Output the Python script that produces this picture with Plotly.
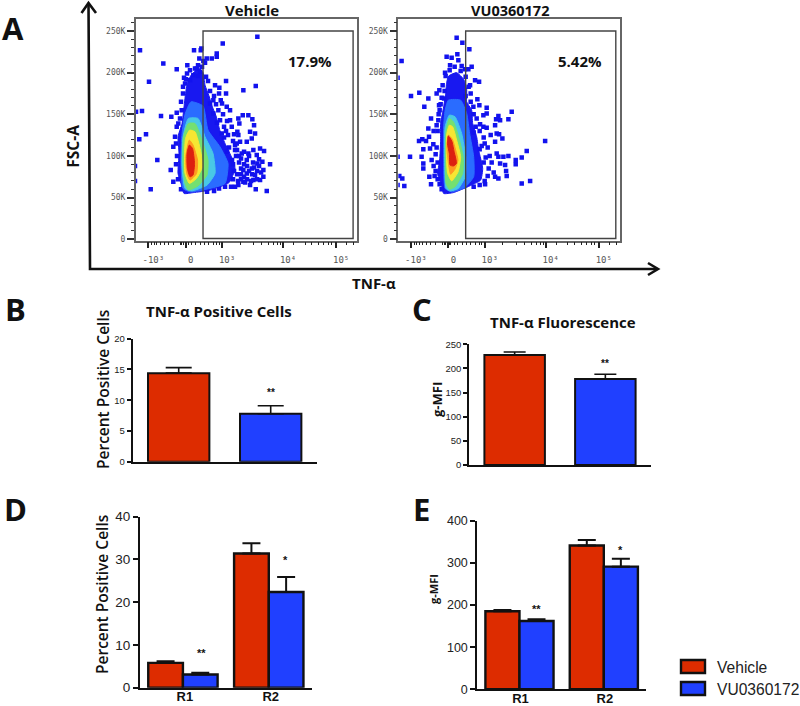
import plotly.graph_objects as go

W, H = 800, 706
BODY = "Open Sans"
ARIAL = "Liberation Sans"
RED = "#dd2c00"
BLUE = "#2040ff"
DOT = "#1212ee"
LEVEL_COLORS = ["#1818f0", "#2a6cff", "#48c8e6", "#74e070", "#f6e632", "#ff9a20", "#dc2010"]

# ---------- panel A: gated density levels and outlying events (display channel, FSC in K)
veh_levels = [
    [(2.7,198),(10,205),(14,200),(16,185),(20,172),(23,160),(27,148),(31,130),(36,115),(42,100),(46,85),(40,68),(21,59),(4.3,56),(-5,55),(-8,67),(-11,79),(-10,103),(-11,123),(-7,139),(-5,159),(-3,179),(-1,190)],
    [(2,165),(14,160),(19,131),(31,111),(39,91),(36,67),(21,61),(1,57),(-6,61),(-8,95),(-7,127),(-4,150)],
    [(-0.7,145),(9,145),(16,123),(24,103),(26,79),(18,65),(2.7,58),(-4,61),(-7,87),(-6,123)],
    [(-0.7,139),(6,139),(13,119),(19,95),(18,77),(9,64),(-0.7,59),(-4,67),(-6,91),(-5.5,123)],
    [(0.5,131),(6,129),(11.5,107),(13.5,87),(7.5,73),(0.3,67),(-4,79),(-4.5,103),(-3.5,121)],
    [(0.3,119),(4,113),(8.5,95),(7.5,79),(1,71),(-2.3,79),(-3.3,99)],
    [(0.3,113),(3.5,109),(5.5,91),(4,77),(1,75),(-1.7,85),(-2,103)],
]
vu_levels = [
    [(-3,196),(5,200),(12,192),(15,180),(15,165),(20,155),(21,139),(25,123),(27,107),(31,85),(29,71),(18,64),(1.7,56),(-8,55),(-10,65),(-14,78),(-12,95),(-11,119),(-11,139),(-8,159),(-6,175),(-5,188)],
    [(-3.3,167),(9,167),(15,151),(18,127),(22,99),(22,75),(13,62),(0,57),(-6.5,61),(-8,95),(-8,135),(-6.5,155)],
    [(-2.3,149),(3.4,147),(10,127),(14,99),(13.5,75),(6.7,61),(-1.6,58),(-5.6,61),(-7,95),(-6.5,135)],
    [(-2.3,145),(1.7,141),(6.5,125),(11.5,99),(11,79),(3.4,63),(-2.3,60),(-5.6,67),(-6.3,95),(-5.6,131)],
    [(-2.3,137),(1,135),(5,119),(9,99),(6.5,81),(0.1,70),(-4,79),(-5.3,103),(-4.8,127)],
    [(-3.3,125),(0.7,120),(4,107),(6.3,95),(3.2,84),(-1,78),(-3.2,91),(-4.8,111)],
    [(-3.3,124),(0.1,118),(2.5,105),(4.8,91),(1.7,88),(-1.6,89),(-2.3,103),(-4.2,115)],
]
veh_events = [(-49,227),(-25.7,211),(-40,189),(-12.3,204),(-1.7,209),(5,227),(11.7,227),(12.3,229),(10.3,217),(14.3,214),(17.7,217),(22.7,217),(27.7,219),(27.7,223),(33.7,235),(68.3,243),(37,190),(26,185),(30.3,182),(37,175),(54.3,179),(66.7,184),(-53,153),(-47,154),(-28,148),(-17.7,147),(-43,126),(-49.7,120),(-31.7,95),(-54,88),(-54,70),(-38.3,60),(-18.3,83),(-15.7,69),(77.7,58),(66.7,60),(81,90),
    (49.3,145),(53.7,149),(59.3,149),(63.3,144),(65,137),(61,129),(66,127),(62.7,121),(57.7,117),(51,117),(46,113),(50.3,139),(48.3,129),(49.3,125),(42.7,135),(41,155),(37.7,159),(35,135),(31,143),(32.7,127),(24.3,167),(31.7,167),(29.3,155),(21,163),(24.3,151),
    (64.3,107),(71,109),(75,106),(67.7,101),(59.3,103),(73.3,93),(68.3,91),(74.3,83),(74.3,75),(71,71),(64.3,71),(61,65),(54.3,69),(49.3,65),(46,63),(57.7,79),(62.7,85),(57.7,95),(52.7,103),(47.7,115),(66,77),(54.3,83),(46,107),
    (-14,123),(-15.7,111),(-12.3,135),(-10.7,139),(-7.3,155),(-12.3,152),(4.3,197),(1,191),(-4,187),(7.7,205),(11,201),(6,205),
    # stippled fringe of the main cloud
    (-5,194),(-2,199),(1,203),(9,209),(13,207),(17,195),(19,190),(21,178),(25,172),(27,162),(30,175),(34,150),(38,142),(33,163),(28,140),(39,125),(44,118),(40,110),(47,100),(50,92),(52,85),(48,78),(44,72),(55,75),(58,88),(63,78),(68,82),(52,97),(42,63),(36,63),(30,61),(25,58),(18,57),(-8,60),(-11,72),(-13,90),(-12,100),(-13,115),(-9,145),(-8,165),(-6,175),(-6,183),(-3,192),(16,212),(9,196),(41,143),(45,126),(35,122),(37,130),
    # denser part of the right lobe
    (38,105),(43,95),(48,107),(44,90),(50,100),(55,90),(60,82),(65,86),(70,88),(72,80),(68,72),(62,70),(58,72),(52,72),(49,70),(45,82),(52,78),(56,68),(64,92),(70,96),(60,100),(55,105)]
vu_events = [(5,242),(10.7,236),(17.7,228),(5.7,222),(-5,219),(0,218),(6.7,215),(-50,214),(-54,194),(20,207),(16.7,204),(13.4,204),(10,208),(-1.6,209),(-6.6,200),(23.4,191),(27.4,189),(18.4,185),(-32.3,176),(-40.6,172),(-12.3,179),(-15,175),(-23.3,169),(-27.3,159),(-12.6,161),(-7.6,169),(25.7,168),(21.7,159),(27.7,161),(35,158),(35,151),(31.7,149),(60,153),(56.7,144),(46.7,148),(44.4,144),(48.4,143),(43.4,137),(-20.6,145),(-23.3,133),(-15,137),(-13.3,143),(-32.6,118),(-29.3,120),(-25.6,118),(-22.6,123),(-18.3,114),(-41.6,99),(-30,99),(-28.3,108),(-21.6,109),(-28.3,91),(-28.3,85),(-20,95),(-22.3,75),(-20.6,66),(-54,99),(-52.3,76),(-49.3,73),(-47.3,64),(-54,65),(93.4,118),(75,106),(70,98),(64,95),(64,90),(56.7,100),(51.7,99),(53.4,89),(54.4,82),(55,76),(46.7,73),(43.4,75),(70,67),(78.4,70),(50.7,121),(45,127),(47.4,126),(39,125),(43.4,117),(45,103),(46.7,99),(48.4,91),(33.4,66),(31.7,135),(35,134),(28.4,138),
    # stippled fringe of the main cloud
    (-6,196),(-2,203),(3,207),(9,202),(14,195),(17,183),(19,175),(14,172),(19,165),(-9,185),(-7,178),(-10,170),(-11,162),(22,150),(25,145),(28,130),(32,122),(33,115),(30,112),(36,110),(38,100),(34,98),(40,92),(37,85),(42,80),(36,76),(33,70),(28,65),(22,63),(-13,150),(-14,130),(-15,110),(-16,102),(-14,92),(-18,88),(-16,82),(-14,72),(-17,76),(-12,66),(-10,60),(-18,130),(-12,155),(24,135),(22,128),(28,108),(32,92)]

fsc_ticks = [0, 50, 100, 150, 200, 250]
fsc_labels = ["0", "50K", "100K", "150K", "200K", "250K"]
tnf_ticks = [-40.7, -3.3, 33, 94, 147]
tnf_labels = ["-10³", "0", "10³", "10⁴", "10⁵"]
tnf_minor = [-37.3,-35,-32.3,-29,-25,-20.7,-15.7,-9,-7.3,-5.7,-4,-2.3,-0.7,2.7,6,11,15,19.3,24.3,27.7,30,51,64.3,72.7,79.3,84.3,88.3,91.7,104.3,116,122.7,129.3,134.3,139.3,142.7,157.7,164.3]
gate = {"x0": 14, "x1": 164, "y0": 1, "y1": 250}

# ---------- panels B and C
single_groups = ["Vehicle", "VU0360172"]
b_values = [14.4, 7.8]
b_errors = [0.9, 1.3]
c_values = [228, 178]
c_errors = [6, 10]

# ---------- panels D and E
regions = ["R1", "R2"]
d_vehicle = [5.8, 31.4]
d_vehicle_err = [0.4, 2.4]
d_vu = [3.1, 22.4]
d_vu_err = [0.4, 3.5]
e_vehicle = [185, 341]
e_vehicle_err = [3, 13]
e_vu = [162, 291]
e_vu_err = [4, 19]


def xd(a, b):
    return [a / W, b / W]


def yd(top, bottom):
    return [1 - bottom / H, 1 - top / H]


fig = go.Figure()


def flow(levels, events, ax):
    xa, ya = f"x{ax}", f"y{ax}"
    for i, (poly, col) in enumerate(zip(levels, LEVEL_COLORS)):
        xs = [p[0] for p in poly] + [poly[0][0]]
        ys = [p[1] for p in poly] + [poly[0][1]]
        fig.add_trace(go.Scatter(x=xs, y=ys, mode="lines", fill="toself", fillcolor=col,
                                 line=dict(color=col, width=1, shape="spline", smoothing=0.5),
                                 xaxis=xa, yaxis=ya, hoverinfo="skip", showlegend=False))
        if i == 0:
            fig.add_trace(go.Scatter(x=[p[0] for p in events], y=[p[1] for p in events], mode="markers",
                                     marker=dict(symbol="square", size=4.5, color=DOT, line=dict(width=0)),
                                     xaxis=xa, yaxis=ya, showlegend=False))


flow(veh_levels, veh_events, 1)
flow(vu_levels, vu_events, 2)


def single(values, errors, ax, cap):
    fig.add_trace(go.Bar(x=single_groups, y=values, width=0.667,
                         marker=dict(color=[RED, BLUE], line=dict(color="#111", width=2)),
                         error_y=dict(type="data", array=errors, symmetric=False, arrayminus=[0, 0],
                                      color="#111", thickness=1.6, width=cap),
                         xaxis=f"x{ax}", yaxis=f"y{ax}", showlegend=False))


def grouped(v1, e1, v2, e2, ax):
    for vals, errs, col, name, off in [(v1, e1, RED, "Vehicle", -0.404), (v2, e2, BLUE, "VU0360172", 0)]:
        fig.add_trace(go.Bar(x=regions, y=vals, name=name, width=0.404, offset=off,
                             marker=dict(color=col, line=dict(color="#111", width=2.4)),
                             error_y=dict(type="data", array=errs, symmetric=False, arrayminus=[0, 0],
                                          color="#111", thickness=2, width=9),
                             xaxis=f"x{ax}", yaxis=f"y{ax}", showlegend=False))


single(b_values, b_errors, 3, 13)
single(c_values, c_errors, 4, 11)
grouped(d_vehicle, d_vehicle_err, d_vu, d_vu_err, 5)
grouped(e_vehicle, e_vehicle_err, e_vu, e_vu_err, 6)

layout = dict(width=W, height=H, margin=dict(l=0, r=0, t=0, b=0), paper_bgcolor="white",
              plot_bgcolor="white", bargap=0.19, barmode="group", showlegend=False)


def flow_axes(ax, left, right):
    anchor_x, anchor_y = f"y{ax}", f"x{ax}"
    layout[f"xaxis{ax}"] = dict(domain=xd(left, right), anchor=anchor_x, range=[-53.3, 168.2], automargin=False,
                                tickmode="array", tickvals=tnf_ticks, ticktext=tnf_labels,
                                ticks="outside", ticklen=6, tickwidth=1.5, tickcolor="#222",
                                ticklabelshift=5, ticklabelstandoff=4,
                                minor=dict(tickmode="array", tickvals=tnf_minor, ticks="outside",
                                           ticklen=3, tickwidth=1, tickcolor="#222"),
                                tickfont=dict(family="DejaVu Sans Mono", size=9, color="#555"),
                                showline=True, linecolor="#666", linewidth=1.5, mirror=True,
                                showgrid=False, zeroline=False)
    layout[f"yaxis{ax}"] = dict(domain=yd(19.3, 240.7), anchor=anchor_y, range=[-1.7, 264], automargin=False,
                                tickmode="array", tickvals=fsc_ticks, ticktext=fsc_labels,
                                ticks="outside", ticklen=7, tickwidth=1.5, tickcolor="#333",
                                minor=dict(dtick=10, tick0=0, ticks="outside", ticklen=3, tickwidth=1, tickcolor="#333"),
                                tickfont=dict(family="DejaVu Sans Mono", size=8, color="#555"),
                                showline=True, linecolor="#666", linewidth=1.5, mirror=True,
                                showgrid=False, zeroline=False)


flow_axes(1, 135.7, 357.3)
flow_axes(2, 398.3, 620)


def bar_axes(ax, left, right, top, bottom, ymax, dtick, size, showcats, ticklen, shift=0):
    layout[f"xaxis{ax}"] = dict(domain=xd(left, right), anchor=f"y{ax}", range=[-0.5, 1.5], automargin=False,
                                showline=True, linecolor="#111", linewidth=2, ticks="",
                                showticklabels=showcats, showgrid=False, zeroline=False,
                                tickfont=dict(family=ARIAL, size=13, color="#111", weight="bold"),
                                ticklabelstandoff=-4, ticklabelshift=shift)
    layout[f"yaxis{ax}"] = dict(domain=yd(top, bottom), anchor=f"x{ax}", range=[0, ymax], dtick=dtick, automargin=False,
                                showline=True, linecolor="#111", linewidth=2, ticks="outside",
                                ticklen=ticklen, tickwidth=2, tickcolor="#111", showgrid=False, zeroline=False,
                                ticklabelstandoff=0,
                                tickfont=dict(family=ARIAL, size=size, color="#222"))


bar_axes(3, 132.7, 316.7, 338.7, 461.7, 20, 5, 9.5, False, 4)
bar_axes(4, 469.3, 650.7, 344.3, 465, 250, 50, 9.5, False, 4)
bar_axes(5, 140, 311.7, 516.7, 687.7, 40, 10, 13.5, True, 5, 2)
bar_axes(6, 477.3, 646, 520.7, 689.3, 400, 100, 12.5, True, 5, 1)


def txt(s, x, y, size, family=BODY, bold=True, color="#111", angle=0, xanchor="center", weight=None):
    return dict(text=s, x=x / W, y=1 - y / H, xref="paper", yref="paper", showarrow=False,
                xanchor=xanchor, yanchor="middle", textangle=angle,
                font=dict(family=family, size=size, color=color, weight=weight or ("bold" if bold else "normal")))


notes = [
    txt("A", 13, 28, 31), txt("B", 15, 309, 31), txt("C", 422, 309, 31), txt("D", 15, 509, 31), txt("E", 421, 509, 31),
    txt("Vehicle", 251.7, 10.5, 15), txt("VU0360172", 510, 10.5, 14.5),
    txt("FSC-A", 73, 146.7, 15.5, angle=-90), txt("TNF-α", 374, 283, 15),
    txt("17.9%", 310, 61, 15), txt("5.42%", 580, 61, 15),
    txt("TNF-α Positive Cells", 218.5, 311, 15), txt("TNF-α Fluorescence", 563, 322, 15),
    txt("Percent Positive Cells", 103, 390, 15.5, weight=600, angle=-90), txt("Percent Positive Cells", 102, 595, 15.5, weight=600, angle=-90),
    txt("g-MFI", 437, 400, 13, angle=-90), txt("g-MFI", 433, 589, 11, angle=-90),
    txt("**", 271, 392, 10, family=ARIAL), txt("**", 605, 363, 10, family=ARIAL),
    txt("**", 201.7, 653, 11, family=ARIAL), txt("*", 285, 560, 11, family=ARIAL),
    txt("**", 536, 609, 11, family=ARIAL), txt("*", 620.7, 550, 11, family=ARIAL),
    txt("Vehicle", 715, 667, 15.6, family=ARIAL, bold=False, xanchor="left", color="#222"),
    txt("VU0360172", 715, 689, 15.6, family=ARIAL, bold=False, xanchor="left", color="#222"),
]
layout["annotations"] = notes


def seg(path, width=2.6):
    return dict(type="path", xref="paper", yref="paper", path=path, line=dict(color="#111", width=width), fillcolor="rgba(0,0,0,0)")


def p(x, y):
    return f"{x / W},{1 - y / H}"


shapes = [
    seg(f"M{p(88.5, 3)}L{p(90, 269)}L{p(657, 269)}"),
    seg(f"M{p(81.5, 13)}L{p(88.5, 3)}L{p(96, 13)}"),
    seg(f"M{p(648, 263)}L{p(658, 269)}L{p(648, 275)}"),
    dict(type="rect", xref="paper", yref="paper", x0=681 / W, x1=705 / W, y0=1 - 673 / H, y1=1 - 660 / H,
         fillcolor=RED, line=dict(color="#111", width=2.4)),
    dict(type="rect", xref="paper", yref="paper", x0=681 / W, x1=705 / W, y0=1 - 695 / H, y1=1 - 682 / H,
         fillcolor=BLUE, line=dict(color="#111", width=2.4)),
]
for ax in (1, 2):
    shapes.append(dict(type="rect", xref=f"x{ax}", yref=f"y{ax}", line=dict(color="#444", width=1.4), **gate))
layout["shapes"] = shapes

fig.update_layout(**layout)
fig.write_html("out.html", config={"displayModeBar": False},
               post_script="document.body.style.margin='0';document.documentElement.style.overflow='hidden';")
